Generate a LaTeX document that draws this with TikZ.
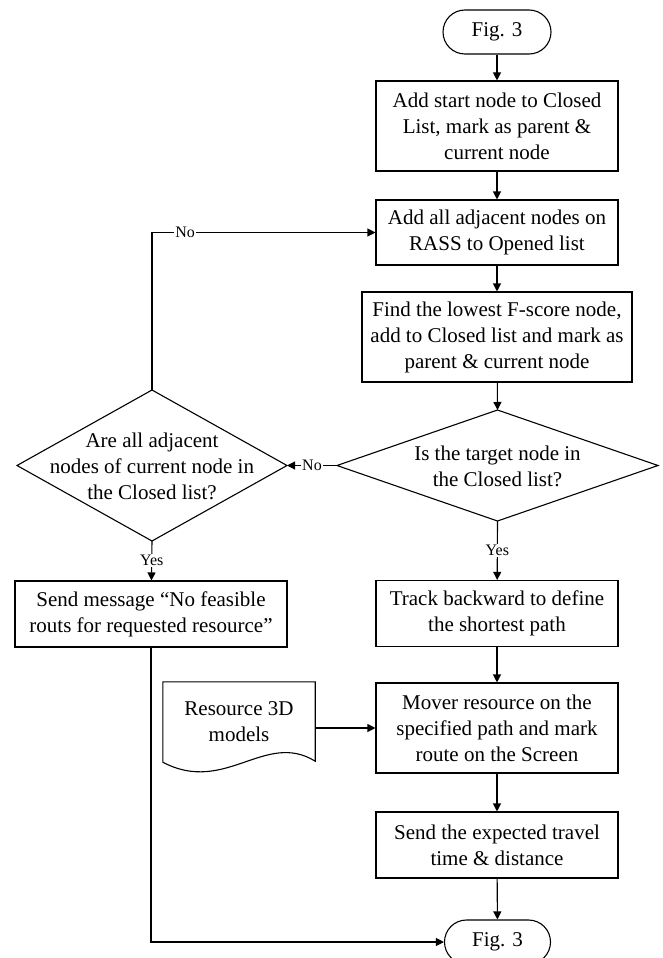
\documentclass[tikz,border=0pt]{standalone}
\usepackage{fontspec}
\setmainfont{Liberation Serif}
\usetikzlibrary{arrows.meta,positioning,calc}
\tikzset{
  base/.style={draw=black, line width=1.1pt, inner sep=0pt, align=center,
    font=\fontsize{21}{26}\selectfont},
  proc/.style={base, rectangle, minimum width=242pt},
  term/.style={base, rectangle, rounded corners=22pt, minimum width=108pt, minimum height=44pt},
  txt/.style={inner sep=0pt, align=center, font=\fontsize{21}{26}\selectfont},
  lbl/.style={fill=white, inner sep=1pt, font=\fontsize{16}{18}\selectfont},
  line/.style={draw=black, line width=1.1pt},
  arr/.style={line, -{Triangle[length=8pt,width=8pt]}},
}
\begin{document}
\begin{tikzpicture}[x=1pt,y=-1pt]
\useasboundingbox (0,0) rectangle (662,958);
\clip (0,0) rectangle (662,958);

% nodes
\node[term] (start) at (497,32) {Fig. 3};
\node[proc, minimum height=90pt] (b1) at (497,126) {Add start node to Closed\\List, mark as parent \&\\current node};
\node[proc, minimum height=65pt] (b2) at (497,232.5) {Add all adjacent nodes on\\RASS to Opened list};
\node[proc, minimum width=270pt, minimum height=90pt] (b3) at (497,337) {Find the lowest F-score node,\\add to Closed list and mark as\\parent \& current node};

% right decision
\node[txt] (dR) at (497.5,466) {Is the target node in\\the Closed list?};
\coordinate (dRn) at (497.5,410);
\coordinate (dRs) at (497.5,521);
\coordinate (dRw) at (337,465.5);
\coordinate (dRe) at (658,465.5);
\draw[line] (dRn) -- (dRe) -- (dRs) -- (dRw) -- cycle;

% left decision
\node[txt] (dL) at (152,466) {Are all adjacent\\nodes of current node in\\the Closed list?};
\coordinate (dLn) at (152,390);
\coordinate (dLs) at (152,541);
\coordinate (dLw) at (17,465.5);
\coordinate (dLe) at (287,465.5);
\draw[line] (dLn) -- (dLe) -- (dLs) -- (dLw) -- cycle;

\node[proc, minimum width=272pt, minimum height=66pt] (msg) at (151,614) {Send message “No feasible\\routs for requested resource”};
\node[proc, minimum height=66pt] (track) at (497,613.5) {Track backward to define\\the shortest path};
\node[proc, minimum height=90pt] (mover) at (497,728) {Mover resource on the\\specified path and mark\\route on the Screen};
\node[proc, minimum height=66pt] (send) at (497,845) {Send the expected travel\\time \& distance};
\node[term, minimum width=106pt] (end) at (497.5,942) {Fig. 3};

% document
\node[txt, minimum width=152pt, minimum height=79pt] (doc) at (239,721.5) {Resource 3D\\models};
\draw[line] (doc.south west) -- (doc.north west) -- (doc.north east) -- (doc.south east)
  .. controls ($(doc.south east)+(-50,-31)$) and ($(doc.south east)+(-90,34)$) .. ($(doc.south west)+(0,1)$) -- (doc.south west);

% connectors
\draw[arr] (start) -- (b1);
\draw[arr] (b1) -- (b2);
\draw[arr] (b2) -- (b3);
\draw[arr] (b3) -- (dRn);
\draw[arr] (dRw) -- node[lbl] {No} (dLe);
\draw[arr] (dLn) |- node[lbl, pos=0.574] {No} (b2.west);
\draw[arr] (dLs) -- node[lbl] {Yes} (msg);
\draw[arr] (dRs) -- node[lbl] {Yes} (track);
\draw[arr] (track) -- (mover);
\draw[arr] (mover) -- (send);
\draw[arr] (send) -- (end);
\draw[arr] (mover.west -| doc.east) -- (mover.west);
\draw[arr] (msg.south) |- (end.west);
\end{tikzpicture}
\end{document}
